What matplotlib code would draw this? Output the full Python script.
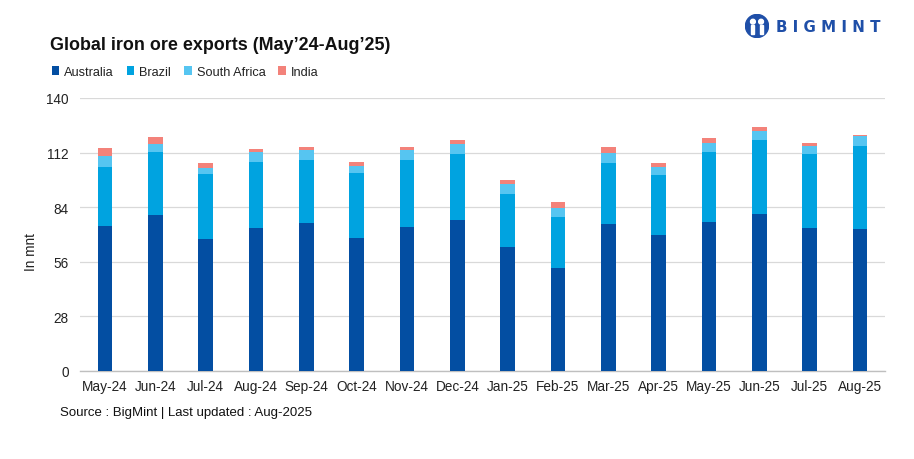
import matplotlib
matplotlib.use("Agg")
import matplotlib.pyplot as plt
import numpy as np
from matplotlib.patches import Circle, Rectangle

plt.rcParams['font.family'] = ['Liberation Sans', 'DejaVu Sans']

months = ["May-24", "Jun-24", "Jul-24", "Aug-24", "Sep-24", "Oct-24", "Nov-24", "Dec-24",
          "Jan-25", "Feb-25", "Mar-25", "Apr-25", "May-25", "Jun-25", "Jul-25", "Aug-25"]
australia = [74.6, 80.1, 67.8, 73.4, 76.0, 68.3, 73.9, 77.5, 63.7, 52.9, 75.5, 69.8, 76.5, 80.6, 73.4, 72.9]
brazil = [30.1, 32.2, 33.3, 33.8, 32.2, 33.3, 34.3, 33.8, 27.1, 26.2, 31.2, 30.8, 35.8, 37.9, 37.9, 42.5]
south_africa = [5.4, 4.1, 2.9, 5.1, 5.2, 3.6, 5.2, 5.1, 5.0, 4.6, 5.1, 4.1, 4.8, 4.6, 4.1, 5.1]
india = [4.3, 3.6, 2.7, 1.6, 1.5, 2.0, 1.5, 2.1, 2.2, 3.0, 3.1, 2.0, 2.4, 2.0, 1.6, 0.5]
yticks = [0, 28, 56, 84, 112, 140]

series = [("Australia", australia, "#034EA2"),
          ("Brazil", brazil, "#00A3E0"),
          ("South Africa", south_africa, "#56C5F1"),
          ("India", india, "#F3827A")]

fig = plt.figure(figsize=(9.14, 4.6), dpi=100)
ax = fig.add_axes([80/914, 1-372/460, 805/914, 273/460])

x = np.arange(len(months))
bottom = np.zeros(len(months))
handles = []
for name, vals, col in series:
    v = np.array(vals)
    b = ax.bar(x, v, bottom=bottom, width=0.29, color=col, label=name, zorder=3)
    handles.append(b)
    bottom += v

ax.set_xlim(-0.5, len(months) - 0.5)
ax.set_ylim(0, 140)
ax.set_yticks(yticks)
ax.set_yticklabels([str(t) for t in yticks])
ax.set_xticks(x)
ax.set_xticklabels(months)
ax.tick_params(axis='both', length=0, labelsize=9.8, colors="#222222", pad=6)
ax.tick_params(axis='y', pad=8)
ax.grid(axis='y', color="#D9D9D9", linewidth=0.9, zorder=0)
for s in ["top", "right", "left"]:
    ax.spines[s].set_visible(False)
ax.spines["bottom"].set_color("#BFBFBF")
ax.spines["bottom"].set_linewidth(1.0)
ax.set_ylabel("In mnt", fontsize=9.8, color="#222222", labelpad=8)
ax.yaxis.set_label_coords(-0.052, 0.44)

fig.text(50/914, 1-45/460, "Global iron ore exports (May\u201924-Aug\u201925)", fontsize=12.9,
         fontweight="bold", color="#111111", va="center", ha="left")

fig.legend(handles=handles, labels=[s[0] for s in series], loc="center left",
           bbox_to_anchor=(40/914, 1-73/460), ncol=4, frameon=False, fontsize=9.2,
           handlelength=0.6, handleheight=0.6, handletextpad=0.4, columnspacing=1.0,
           labelcolor="#222222")

fig.text(60/914, 1-413/460, "Source : BigMint | Last updated : Aug-2025", fontsize=9.5,
         color="#111111", va="center", ha="left")

# logo
logo_col = "#1F4FA8"
fig.text(776/914, 1-27/460, "B I G M I N T", fontsize=10.8, fontweight="bold", color=logo_col,
         va="center", ha="left", family=["DejaVu Sans"])
lax = fig.add_axes([745/914, 1-39/460, 24/914, 24/460])
lax.set_xlim(0, 1); lax.set_ylim(0, 1); lax.axis("off")
lax.add_patch(Circle((0.5, 0.5), 0.48, color=logo_col, transform=lax.transAxes))
lax.add_patch(Circle((0.33, 0.68), 0.1, color="white", transform=lax.transAxes))
lax.add_patch(Circle((0.67, 0.68), 0.1, color="white", transform=lax.transAxes))
lax.add_patch(Rectangle((0.25, 0.15), 0.14, 0.4, color="white", transform=lax.transAxes))
lax.add_patch(Rectangle((0.61, 0.15), 0.14, 0.4, color="white", transform=lax.transAxes))

fig.savefig("out.png", dpi=100)
